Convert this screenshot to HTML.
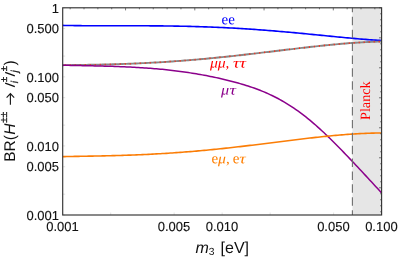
<!DOCTYPE html>
<html><head><meta charset="utf-8"><title>BR plot</title>
<style>
html,body{margin:0;padding:0;background:#fff;}
body{width:399px;height:258px;overflow:hidden;}
svg{display:block;will-change:transform;transform:translateZ(0);}
text{font-family:"Liberation Sans",sans-serif;text-rendering:geometricPrecision;}
.ser{font-family:"Liberation Serif",serif;}
</style></head><body>
<svg width="399" height="258" viewBox="0 0 399 258">
<rect x="0" y="0" width="399" height="258" fill="#ffffff"/>
<!-- Planck band -->
<rect x="352.4" y="7.8" width="29.2" height="207.2" fill="#e6e6e6"/>
<!-- curves -->
<g fill="none" stroke-width="1.6" stroke-linejoin="round">
<path d="M62.70,25.39 L64.69,25.44 L66.69,25.47 L68.68,25.51 L70.67,25.54 L72.67,25.57 L74.66,25.60 L76.65,25.62 L78.65,25.64 L80.64,25.66 L82.63,25.68 L84.62,25.70 L86.62,25.71 L88.61,25.72 L90.60,25.73 L92.60,25.74 L94.59,25.75 L96.58,25.75 L98.58,25.76 L100.57,25.76 L102.56,25.77 L104.56,25.77 L106.55,25.77 L108.54,25.77 L110.54,25.77 L112.53,25.77 L114.52,25.77 L116.51,25.77 L118.51,25.77 L120.50,25.77 L122.49,25.77 L124.49,25.77 L126.48,25.77 L128.47,25.77 L130.47,25.77 L132.46,25.77 L134.45,25.78 L136.45,25.78 L138.44,25.78 L140.43,25.79 L142.43,25.79 L144.42,25.80 L146.41,25.81 L148.40,25.82 L150.40,25.83 L152.39,25.84 L154.38,25.85 L156.38,25.87 L158.37,25.89 L160.36,25.90 L162.36,25.92 L164.35,25.95 L166.34,25.97 L168.34,26.00 L170.33,26.02 L172.32,26.05 L174.31,26.08 L176.31,26.12 L178.30,26.15 L180.29,26.19 L182.29,26.23 L184.28,26.27 L186.27,26.32 L188.27,26.36 L190.26,26.41 L192.25,26.47 L194.25,26.52 L196.24,26.58 L198.23,26.64 L200.23,26.70 L202.22,26.76 L204.21,26.83 L206.21,26.90 L208.20,26.97 L210.19,27.05 L212.18,27.12 L214.18,27.21 L216.17,27.29 L218.16,27.38 L220.16,27.46 L222.15,27.56 L224.14,27.65 L226.14,27.75 L228.13,27.85 L230.12,27.95 L232.12,28.06 L234.11,28.17 L236.10,28.28 L238.10,28.39 L240.09,28.51 L242.08,28.63 L244.07,28.75 L246.07,28.88 L248.06,29.01 L250.05,29.14 L252.05,29.27 L254.04,29.41 L256.03,29.55 L258.03,29.69 L260.02,29.84 L262.01,29.98 L264.01,30.13 L266.00,30.29 L267.99,30.44 L269.99,30.60 L271.98,30.76 L273.97,30.92 L275.96,31.09 L277.96,31.26 L279.95,31.43 L281.94,31.60 L283.94,31.77 L285.93,31.95 L287.92,32.13 L289.92,32.31 L291.91,32.49 L293.90,32.67 L295.90,32.86 L297.89,33.04 L299.88,33.23 L301.88,33.42 L303.87,33.61 L305.86,33.80 L307.85,34.00 L309.85,34.19 L311.84,34.39 L313.83,34.58 L315.83,34.78 L317.82,34.97 L319.81,35.17 L321.81,35.37 L323.80,35.56 L325.79,35.76 L327.79,35.96 L329.78,36.15 L331.77,36.35 L333.77,36.54 L335.76,36.74 L337.75,36.93 L339.74,37.12 L341.74,37.31 L343.73,37.50 L345.72,37.69 L347.72,37.87 L349.71,38.06 L351.70,38.24 L353.70,38.41 L355.69,38.59 L357.68,38.76 L359.68,38.93 L361.67,39.10 L363.66,39.26 L365.66,39.42 L367.65,39.58 L369.64,39.73 L371.63,39.88 L373.63,40.02 L375.62,40.16 L377.61,40.29 L379.61,40.42 L381.60,40.54" stroke="#0000ff"/>
<path d="M62.70,65.19 L64.69,65.17 L66.69,65.14 L68.68,65.12 L70.67,65.09 L72.67,65.07 L74.66,65.04 L76.65,65.01 L78.65,64.98 L80.64,64.95 L82.63,64.92 L84.62,64.89 L86.62,64.86 L88.61,64.82 L90.60,64.79 L92.60,64.75 L94.59,64.71 L96.58,64.67 L98.58,64.63 L100.57,64.59 L102.56,64.54 L104.56,64.50 L106.55,64.45 L108.54,64.40 L110.54,64.34 L112.53,64.29 L114.52,64.23 L116.51,64.17 L118.51,64.11 L120.50,64.05 L122.49,63.98 L124.49,63.91 L126.48,63.84 L128.47,63.76 L130.47,63.69 L132.46,63.61 L134.45,63.53 L136.45,63.44 L138.44,63.36 L140.43,63.27 L142.43,63.17 L144.42,63.08 L146.41,62.98 L148.40,62.88 L150.40,62.77 L152.39,62.67 L154.38,62.56 L156.38,62.45 L158.37,62.33 L160.36,62.21 L162.36,62.09 L164.35,61.97 L166.34,61.84 L168.34,61.71 L170.33,61.57 L172.32,61.44 L174.31,61.30 L176.31,61.16 L178.30,61.01 L180.29,60.86 L182.29,60.71 L184.28,60.56 L186.27,60.40 L188.27,60.24 L190.26,60.08 L192.25,59.92 L194.25,59.75 L196.24,59.58 L198.23,59.40 L200.23,59.23 L202.22,59.05 L204.21,58.87 L206.21,58.68 L208.20,58.50 L210.19,58.31 L212.18,58.11 L214.18,57.92 L216.17,57.72 L218.16,57.52 L220.16,57.32 L222.15,57.12 L224.14,56.91 L226.14,56.70 L228.13,56.49 L230.12,56.28 L232.12,56.07 L234.11,55.85 L236.10,55.63 L238.10,55.41 L240.09,55.19 L242.08,54.96 L244.07,54.74 L246.07,54.51 L248.06,54.28 L250.05,54.06 L252.05,53.82 L254.04,53.59 L256.03,53.36 L258.03,53.13 L260.02,52.89 L262.01,52.65 L264.01,52.42 L266.00,52.18 L267.99,51.94 L269.99,51.70 L271.98,51.47 L273.97,51.23 L275.96,50.99 L277.96,50.75 L279.95,50.51 L281.94,50.27 L283.94,50.03 L285.93,49.79 L287.92,49.55 L289.92,49.32 L291.91,49.08 L293.90,48.85 L295.90,48.61 L297.89,48.38 L299.88,48.15 L301.88,47.91 L303.87,47.69 L305.86,47.46 L307.85,47.23 L309.85,47.01 L311.84,46.79 L313.83,46.57 L315.83,46.35 L317.82,46.13 L319.81,45.92 L321.81,45.71 L323.80,45.51 L325.79,45.30 L327.79,45.10 L329.78,44.91 L331.77,44.71 L333.77,44.52 L335.76,44.34 L337.75,44.16 L339.74,43.98 L341.74,43.81 L343.73,43.64 L345.72,43.47 L347.72,43.32 L349.71,43.16 L351.70,43.01 L353.70,42.87 L355.69,42.74 L357.68,42.60 L359.68,42.48 L361.67,42.36 L363.66,42.25 L365.66,42.14 L367.65,42.04 L369.64,41.95 L371.63,41.87 L373.63,41.79 L375.62,41.72 L377.61,41.66 L379.61,41.60 L381.60,41.56" stroke="#888888" stroke-width="1.9"/>
<path d="M62.70,65.19 L64.69,65.17 L66.69,65.14 L68.68,65.12 L70.67,65.09 L72.67,65.07 L74.66,65.04 L76.65,65.01 L78.65,64.98 L80.64,64.95 L82.63,64.92 L84.62,64.89 L86.62,64.86 L88.61,64.82 L90.60,64.79 L92.60,64.75 L94.59,64.71 L96.58,64.67 L98.58,64.63 L100.57,64.59 L102.56,64.54 L104.56,64.50 L106.55,64.45 L108.54,64.40 L110.54,64.34 L112.53,64.29 L114.52,64.23 L116.51,64.17 L118.51,64.11 L120.50,64.05 L122.49,63.98 L124.49,63.91 L126.48,63.84 L128.47,63.76 L130.47,63.69 L132.46,63.61 L134.45,63.53 L136.45,63.44 L138.44,63.36 L140.43,63.27 L142.43,63.17 L144.42,63.08 L146.41,62.98 L148.40,62.88 L150.40,62.77 L152.39,62.67 L154.38,62.56 L156.38,62.45 L158.37,62.33 L160.36,62.21 L162.36,62.09 L164.35,61.97 L166.34,61.84 L168.34,61.71 L170.33,61.57 L172.32,61.44 L174.31,61.30 L176.31,61.16 L178.30,61.01 L180.29,60.86 L182.29,60.71 L184.28,60.56 L186.27,60.40 L188.27,60.24 L190.26,60.08 L192.25,59.92 L194.25,59.75 L196.24,59.58 L198.23,59.40 L200.23,59.23 L202.22,59.05 L204.21,58.87 L206.21,58.68 L208.20,58.50 L210.19,58.31 L212.18,58.11 L214.18,57.92 L216.17,57.72 L218.16,57.52 L220.16,57.32 L222.15,57.12 L224.14,56.91 L226.14,56.70 L228.13,56.49 L230.12,56.28 L232.12,56.07 L234.11,55.85 L236.10,55.63 L238.10,55.41 L240.09,55.19 L242.08,54.96 L244.07,54.74 L246.07,54.51 L248.06,54.28 L250.05,54.06 L252.05,53.82 L254.04,53.59 L256.03,53.36 L258.03,53.13 L260.02,52.89 L262.01,52.65 L264.01,52.42 L266.00,52.18 L267.99,51.94 L269.99,51.70 L271.98,51.47 L273.97,51.23 L275.96,50.99 L277.96,50.75 L279.95,50.51 L281.94,50.27 L283.94,50.03 L285.93,49.79 L287.92,49.55 L289.92,49.32 L291.91,49.08 L293.90,48.85 L295.90,48.61 L297.89,48.38 L299.88,48.15 L301.88,47.91 L303.87,47.69 L305.86,47.46 L307.85,47.23 L309.85,47.01 L311.84,46.79 L313.83,46.57 L315.83,46.35 L317.82,46.13 L319.81,45.92 L321.81,45.71 L323.80,45.51 L325.79,45.30 L327.79,45.10 L329.78,44.91 L331.77,44.71 L333.77,44.52 L335.76,44.34 L337.75,44.16 L339.74,43.98 L341.74,43.81 L343.73,43.64 L345.72,43.47 L347.72,43.32 L349.71,43.16 L351.70,43.01 L353.70,42.87 L355.69,42.74 L357.68,42.60 L359.68,42.48 L361.67,42.36 L363.66,42.25 L365.66,42.14 L367.65,42.04 L369.64,41.95 L371.63,41.87 L373.63,41.79 L375.62,41.72 L377.61,41.66 L379.61,41.60 L381.60,41.56" stroke="#ff2a14" stroke-width="1.6" stroke-dasharray="1.1 3.9" stroke-dashoffset="-2"/>
<path d="M62.70,65.20 L64.69,65.26 L66.69,65.31 L68.68,65.35 L70.67,65.40 L72.67,65.44 L74.66,65.49 L76.65,65.53 L78.65,65.57 L80.64,65.61 L82.63,65.65 L84.62,65.69 L86.62,65.73 L88.61,65.77 L90.60,65.81 L92.60,65.85 L94.59,65.90 L96.58,65.94 L98.58,65.99 L100.57,66.03 L102.56,66.08 L104.56,66.13 L106.55,66.19 L108.54,66.24 L110.54,66.30 L112.53,66.36 L114.52,66.43 L116.51,66.49 L118.51,66.56 L120.50,66.64 L122.49,66.72 L124.49,66.80 L126.48,66.89 L128.47,66.98 L130.47,67.08 L132.46,67.18 L134.45,67.28 L136.45,67.39 L138.44,67.51 L140.43,67.63 L142.43,67.76 L144.42,67.89 L146.41,68.03 L148.40,68.18 L150.40,68.33 L152.39,68.48 L154.38,68.65 L156.38,68.82 L158.37,69.00 L160.36,69.18 L162.36,69.37 L164.35,69.57 L166.34,69.78 L168.34,69.99 L170.33,70.21 L172.32,70.44 L174.31,70.68 L176.31,70.92 L178.30,71.18 L180.29,71.44 L182.29,71.70 L184.28,71.98 L186.27,72.27 L188.27,72.56 L190.26,72.87 L192.25,73.18 L194.25,73.50 L196.24,73.83 L198.23,74.17 L200.23,74.51 L202.22,74.87 L204.21,75.24 L206.21,75.61 L208.20,76.00 L210.19,76.39 L212.18,76.80 L214.18,77.21 L216.17,77.64 L218.16,78.07 L220.16,78.51 L222.15,78.97 L224.14,79.43 L226.14,79.91 L228.13,80.40 L230.12,80.90 L232.12,81.41 L234.11,81.94 L236.10,82.48 L238.10,83.03 L240.09,83.60 L242.08,84.18 L244.07,84.79 L246.07,85.41 L248.06,86.04 L250.05,86.70 L252.05,87.38 L254.04,88.08 L256.03,88.80 L258.03,89.54 L260.02,90.31 L262.01,91.11 L264.01,91.93 L266.00,92.78 L267.99,93.67 L269.99,94.58 L271.98,95.52 L273.97,96.49 L275.96,97.50 L277.96,98.54 L279.95,99.62 L281.94,100.73 L283.94,101.88 L285.93,103.06 L287.92,104.28 L289.92,105.54 L291.91,106.83 L293.90,108.16 L295.90,109.53 L297.89,110.94 L299.88,112.39 L301.88,113.87 L303.87,115.39 L305.86,116.95 L307.85,118.55 L309.85,120.18 L311.84,121.85 L313.83,123.56 L315.83,125.30 L317.82,127.07 L319.81,128.87 L321.81,130.71 L323.80,132.57 L325.79,134.46 L327.79,136.37 L329.78,138.31 L331.77,140.27 L333.77,142.25 L335.76,144.25 L337.75,146.26 L339.74,148.29 L341.74,150.33 L343.73,152.39 L345.72,154.46 L347.72,156.54 L349.71,158.63 L351.70,160.73 L353.70,162.83 L355.69,164.95 L357.68,167.07 L359.68,169.20 L361.67,171.33 L363.66,173.47 L365.66,175.62 L367.65,177.77 L369.64,179.93 L371.63,182.09 L373.63,184.26 L375.62,186.43 L377.61,188.61 L379.61,190.80 L381.60,192.99" stroke="#8b008b" stroke-width="1.5"/>
<path d="M62.70,156.62 L64.69,156.58 L66.69,156.55 L68.68,156.51 L70.67,156.48 L72.67,156.44 L74.66,156.41 L76.65,156.38 L78.65,156.34 L80.64,156.31 L82.63,156.27 L84.62,156.24 L86.62,156.21 L88.61,156.17 L90.60,156.13 L92.60,156.10 L94.59,156.06 L96.58,156.02 L98.58,155.98 L100.57,155.94 L102.56,155.89 L104.56,155.85 L106.55,155.80 L108.54,155.75 L110.54,155.70 L112.53,155.65 L114.52,155.60 L116.51,155.54 L118.51,155.49 L120.50,155.43 L122.49,155.37 L124.49,155.30 L126.48,155.24 L128.47,155.17 L130.47,155.10 L132.46,155.02 L134.45,154.95 L136.45,154.87 L138.44,154.78 L140.43,154.70 L142.43,154.61 L144.42,154.52 L146.41,154.43 L148.40,154.33 L150.40,154.23 L152.39,154.13 L154.38,154.03 L156.38,153.92 L158.37,153.81 L160.36,153.69 L162.36,153.57 L164.35,153.45 L166.34,153.33 L168.34,153.20 L170.33,153.07 L172.32,152.94 L174.31,152.80 L176.31,152.66 L178.30,152.52 L180.29,152.37 L182.29,152.22 L184.28,152.07 L186.27,151.91 L188.27,151.75 L190.26,151.59 L192.25,151.43 L194.25,151.26 L196.24,151.08 L198.23,150.91 L200.23,150.73 L202.22,150.55 L204.21,150.37 L206.21,150.18 L208.20,149.99 L210.19,149.80 L212.18,149.60 L214.18,149.40 L216.17,149.20 L218.16,149.00 L220.16,148.79 L222.15,148.58 L224.14,148.37 L226.14,148.15 L228.13,147.94 L230.12,147.72 L232.12,147.49 L234.11,147.27 L236.10,147.05 L238.10,146.82 L240.09,146.59 L242.08,146.36 L244.07,146.12 L246.07,145.89 L248.06,145.65 L250.05,145.41 L252.05,145.17 L254.04,144.93 L256.03,144.69 L258.03,144.44 L260.02,144.20 L262.01,143.95 L264.01,143.70 L266.00,143.46 L267.99,143.21 L269.99,142.96 L271.98,142.71 L273.97,142.46 L275.96,142.21 L277.96,141.96 L279.95,141.71 L281.94,141.46 L283.94,141.22 L285.93,140.97 L287.92,140.72 L289.92,140.47 L291.91,140.23 L293.90,139.98 L295.90,139.74 L297.89,139.50 L299.88,139.26 L301.88,139.02 L303.87,138.78 L305.86,138.55 L307.85,138.31 L309.85,138.08 L311.84,137.86 L313.83,137.63 L315.83,137.41 L317.82,137.19 L319.81,136.97 L321.81,136.76 L323.80,136.55 L325.79,136.35 L327.79,136.15 L329.78,135.95 L331.77,135.76 L333.77,135.57 L335.76,135.39 L337.75,135.21 L339.74,135.04 L341.74,134.87 L343.73,134.71 L345.72,134.55 L347.72,134.40 L349.71,134.26 L351.70,134.12 L353.70,133.99 L355.69,133.87 L357.68,133.75 L359.68,133.64 L361.67,133.54 L363.66,133.45 L365.66,133.37 L367.65,133.29 L369.64,133.22 L371.63,133.16 L373.63,133.11 L375.62,133.07 L377.61,133.04 L379.61,133.02 L381.60,133.01" stroke="#fb7d06"/>
</g>
<line x1="352.4" y1="7.8" x2="352.4" y2="215.0" stroke="#6e6e6e" stroke-width="1.1" stroke-dasharray="8.45 4.44" stroke-dashoffset="3.9"/>
<!-- frame -->
<g stroke="#d0d0d0" stroke-width="0.6">
<line x1="62.7" y1="215.00" x2="65.2" y2="215.00"/>
<line x1="62.7" y1="194.21" x2="65.2" y2="194.21"/>
<line x1="62.7" y1="166.72" x2="65.2" y2="166.72"/>
<line x1="62.7" y1="145.93" x2="65.2" y2="145.93"/>
<line x1="62.7" y1="125.14" x2="65.2" y2="125.14"/>
<line x1="62.7" y1="97.66" x2="65.2" y2="97.66"/>
<line x1="62.7" y1="76.87" x2="65.2" y2="76.87"/>
<line x1="62.7" y1="56.08" x2="65.2" y2="56.08"/>
<line x1="62.7" y1="28.59" x2="65.2" y2="28.59"/>
<line x1="62.7" y1="7.80" x2="65.2" y2="7.80"/>
<line x1="62.70" y1="215.0" x2="62.70" y2="212.5"/>
<line x1="110.70" y1="215.0" x2="110.70" y2="212.5"/>
<line x1="174.15" y1="215.0" x2="174.15" y2="212.5"/>
<line x1="222.15" y1="215.0" x2="222.15" y2="212.5"/>
<line x1="270.15" y1="215.0" x2="270.15" y2="212.5"/>
<line x1="333.60" y1="215.0" x2="333.60" y2="212.5"/>
<line x1="381.60" y1="215.0" x2="381.60" y2="212.5"/>
</g>
<g stroke="#444" stroke-width="0.7">
<line x1="70.16" y1="7.8" x2="70.16" y2="9.3"/>
<line x1="84.01" y1="7.8" x2="84.01" y2="9.3"/>
<line x1="97.86" y1="7.8" x2="97.86" y2="9.3"/>
<line x1="111.71" y1="7.8" x2="111.71" y2="9.3"/>
<line x1="125.56" y1="7.8" x2="125.56" y2="10.4"/>
<line x1="139.41" y1="7.8" x2="139.41" y2="9.3"/>
<line x1="153.26" y1="7.8" x2="153.26" y2="9.3"/>
<line x1="167.11" y1="7.8" x2="167.11" y2="9.3"/>
<line x1="180.96" y1="7.8" x2="180.96" y2="9.3"/>
<line x1="194.81" y1="7.8" x2="194.81" y2="10.4"/>
<line x1="208.66" y1="7.8" x2="208.66" y2="9.3"/>
<line x1="222.51" y1="7.8" x2="222.51" y2="9.3"/>
<line x1="236.36" y1="7.8" x2="236.36" y2="9.3"/>
<line x1="250.21" y1="7.8" x2="250.21" y2="9.3"/>
<line x1="264.06" y1="7.8" x2="264.06" y2="10.4"/>
<line x1="277.91" y1="7.8" x2="277.91" y2="9.3"/>
<line x1="291.76" y1="7.8" x2="291.76" y2="9.3"/>
<line x1="305.61" y1="7.8" x2="305.61" y2="9.3"/>
<line x1="319.46" y1="7.8" x2="319.46" y2="9.3"/>
<line x1="333.31" y1="7.8" x2="333.31" y2="10.4"/>
<line x1="347.15" y1="7.8" x2="347.15" y2="9.3"/>
<line x1="361.00" y1="7.8" x2="361.00" y2="9.3"/>
<line x1="374.85" y1="7.8" x2="374.85" y2="9.3"/>
<line x1="381.6" y1="211.77" x2="380.1" y2="211.77"/>
<line x1="381.6" y1="205.77" x2="380.1" y2="205.77"/>
<line x1="381.6" y1="199.77" x2="380.1" y2="199.77"/>
<line x1="381.6" y1="193.77" x2="380.1" y2="193.77"/>
<line x1="381.6" y1="187.77" x2="379.0" y2="187.77"/>
<line x1="381.6" y1="181.77" x2="380.1" y2="181.77"/>
<line x1="381.6" y1="175.77" x2="380.1" y2="175.77"/>
<line x1="381.6" y1="169.77" x2="380.1" y2="169.77"/>
<line x1="381.6" y1="163.78" x2="380.1" y2="163.78"/>
<line x1="381.6" y1="157.78" x2="379.0" y2="157.78"/>
<line x1="381.6" y1="151.78" x2="380.1" y2="151.78"/>
<line x1="381.6" y1="145.78" x2="380.1" y2="145.78"/>
<line x1="381.6" y1="139.78" x2="380.1" y2="139.78"/>
<line x1="381.6" y1="133.78" x2="380.1" y2="133.78"/>
<line x1="381.6" y1="127.78" x2="379.0" y2="127.78"/>
<line x1="381.6" y1="121.78" x2="380.1" y2="121.78"/>
<line x1="381.6" y1="115.78" x2="380.1" y2="115.78"/>
<line x1="381.6" y1="109.78" x2="380.1" y2="109.78"/>
<line x1="381.6" y1="103.78" x2="380.1" y2="103.78"/>
<line x1="381.6" y1="97.79" x2="379.0" y2="97.79"/>
<line x1="381.6" y1="91.79" x2="380.1" y2="91.79"/>
<line x1="381.6" y1="85.79" x2="380.1" y2="85.79"/>
<line x1="381.6" y1="79.79" x2="380.1" y2="79.79"/>
<line x1="381.6" y1="73.79" x2="380.1" y2="73.79"/>
<line x1="381.6" y1="67.79" x2="379.0" y2="67.79"/>
<line x1="381.6" y1="61.79" x2="380.1" y2="61.79"/>
<line x1="381.6" y1="55.79" x2="380.1" y2="55.79"/>
<line x1="381.6" y1="49.79" x2="380.1" y2="49.79"/>
<line x1="381.6" y1="43.79" x2="380.1" y2="43.79"/>
<line x1="381.6" y1="37.80" x2="379.0" y2="37.80"/>
<line x1="381.6" y1="31.80" x2="380.1" y2="31.80"/>
<line x1="381.6" y1="25.80" x2="380.1" y2="25.80"/>
<line x1="381.6" y1="19.80" x2="380.1" y2="19.80"/>
<line x1="381.6" y1="13.80" x2="380.1" y2="13.80"/>
<line x1="381.6" y1="7.80" x2="379.0" y2="7.80"/>
</g>
<rect x="62.7" y="7.8" width="318.90000000000003" height="207.2" fill="none" stroke="#333" stroke-width="1.15"/>
<!-- tick labels -->
<g font-size="13" fill="#111" stroke="#111" stroke-width="0.12"><text x="59.0" y="12.50" text-anchor="end">1</text><text x="59.0" y="33.29" text-anchor="end">0.500</text><text x="59.0" y="81.57" text-anchor="end">0.100</text><text x="59.0" y="102.36" text-anchor="end">0.050</text><text x="59.0" y="150.63" text-anchor="end">0.010</text><text x="59.0" y="171.42" text-anchor="end">0.005</text><text x="59.0" y="219.70" text-anchor="end">0.001</text><text x="62.50" y="230.5" text-anchor="middle">0.001</text><text x="173.95" y="230.5" text-anchor="middle">0.005</text><text x="221.95" y="230.5" text-anchor="middle">0.010</text><text x="333.40" y="230.5" text-anchor="middle">0.050</text><text x="381.40" y="230.5" text-anchor="middle">0.100</text></g>
<!-- curve labels -->
<g class="ser" font-size="15">
<text class="ser" transform="translate(221.6,24.2) rotate(0.03)" fill="#0000ff">ee</text>
<g fill="#ff0000" font-style="italic">
<text class="ser" transform="translate(209.9,67.6) rotate(0.03) scale(1.05,0.94)">μμ</text>
<text class="ser" transform="translate(225.6,67.6) rotate(0.03)">,</text>
<text class="ser" transform="translate(233.0,67.6) rotate(0.03) scale(1.2,0.94)">ττ</text>
</g>
<g fill="#8b008b" font-style="italic">
<text class="ser" transform="translate(221,94.5) rotate(0.03) scale(1.08,0.96)">μ</text>
<text class="ser" transform="translate(229.6,94.5) rotate(0.03) scale(1.2,0.96)">τ</text>
</g>
<g fill="#ff7f00">
<text class="ser" transform="translate(211.5,163.2) rotate(0.03)">e</text>
<text class="ser" transform="translate(217.9,163.2) rotate(0.03) scale(1.05,0.96)" font-style="italic">μ</text>
<text class="ser" transform="translate(226.0,163.2) rotate(0.03)">,</text>
<text class="ser" transform="translate(232.7,163.2) rotate(0.03)">e</text>
<text class="ser" transform="translate(239.3,163.2) rotate(0.03) scale(1.2,0.96)" font-style="italic">τ</text>
</g>
<text class="ser" transform="translate(369.7,120) rotate(-90)" fill="#ff0000" font-size="14.2">Planck</text>
</g>
<!-- axis labels -->
<g font-size="16" fill="#111">
<text x="195.6" y="252.8" font-style="italic">m</text>
<text x="208.8" y="254.6" font-size="10.3">3</text>
<text x="220.6" y="252.8">[eV]</text>
</g>
<g transform="translate(14.8,161) rotate(-90)" font-size="15.5" fill="#111">
<text x="-0.8" y="0">BR(</text>
<text x="26.2" y="0" font-style="italic">H</text>
<text x="38.3" y="-7.4" font-size="10" stroke="#111" stroke-width="0.3">±±</text>
<path d="M56.3,-4.4 H67.2 M63.4,-8.2 L67.4,-4.4 L63.4,-0.6" fill="none" stroke="#1a1a1a" stroke-width="1.15"/>
<path d="M74.4,0 L77.9,-9.6 M85.2,0 L88.7,-9.6" fill="none" stroke="#111" stroke-width="1.35"/>
<text x="78.9" y="-7.4" font-size="9.5" stroke="#111" stroke-width="0.3">±</text>
<text x="77.8" y="3.6" font-size="10" font-style="italic" stroke="#111" stroke-width="0.25">i</text>
<text x="89.7" y="-7.4" font-size="9.5" stroke="#111" stroke-width="0.3">±</text>
<text x="88.4" y="3.6" font-size="10" font-style="italic" stroke="#111" stroke-width="0.25">j</text>
<text x="95.6" y="0">)</text>
</g>
</svg>
</body></html>
